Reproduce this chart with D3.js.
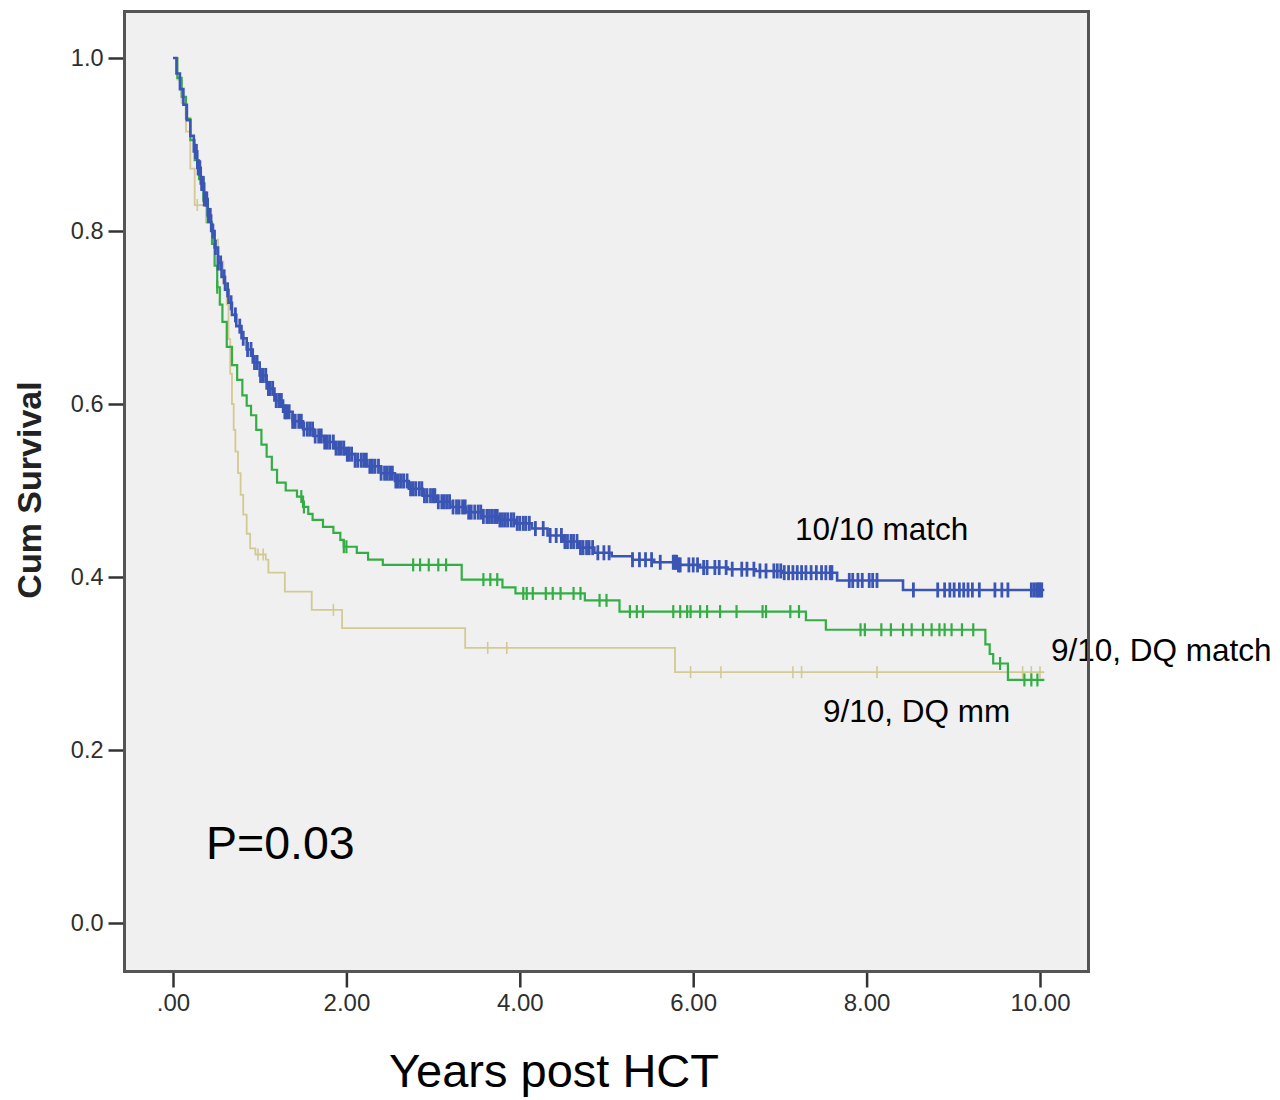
<!DOCTYPE html>
<html>
<head>
<meta charset="utf-8">
<script src="https://cdn.jsdelivr.net/npm/d3@7"></script>
<style>
  html, body { margin: 0; padding: 0; background: #ffffff; }
  svg { display: block; }
  text { font-family: "Liberation Sans", Arial, sans-serif; }
</style>
</head>
<body>
<svg id="chart" width="1280" height="1100"></svg>
<script>
// ---------------- DATA ----------------
const seriesNames = ["10/10 match", "9/10, DQ match", "9/10, DQ mm"];

// 10/10 match (blue) – step times (years) and cumulative survival
const blueTimes = [0, 0.04, 0.08, 0.12, 0.16, 0.2, 0.24, 0.28, 0.32, 0.36, 0.4, 0.44, 0.48, 0.52, 0.56, 0.6, 0.64, 0.68, 0.73, 0.79, 0.85, 0.92, 1.0, 1.08, 1.17, 1.27, 1.38, 1.5, 1.62, 1.74, 1.86, 1.98, 2.1, 2.24, 2.4, 2.56, 2.72, 2.88, 3.04, 3.2, 3.38, 3.56, 3.76, 3.96, 4.14, 4.32, 4.5, 4.68, 4.86, 5.06, 5.3, 5.55, 5.82, 6.08, 6.4, 6.72, 7.02, 7.66, 8.42, 10.05];
const blueSurv  = [1.0, 0.982, 0.964, 0.946, 0.928, 0.91, 0.892, 0.873, 0.855, 0.837, 0.818, 0.8, 0.781, 0.763, 0.747, 0.732, 0.717, 0.703, 0.69, 0.676, 0.663, 0.648, 0.633, 0.618, 0.604, 0.591, 0.58, 0.571, 0.563, 0.556, 0.549, 0.542, 0.535, 0.528, 0.52, 0.511, 0.502, 0.494, 0.487, 0.481, 0.475, 0.47, 0.466, 0.462, 0.456, 0.448, 0.441, 0.434, 0.428, 0.424, 0.42, 0.417, 0.414, 0.411, 0.409, 0.407, 0.405, 0.396, 0.385, 0.385];
const blueCensored = [0.26, 0.27, 0.29, 0.3, 0.31, 0.33, 0.34, 0.35, 0.36, 0.38, 0.39, 0.41, 0.43, 0.46, 0.49, 0.52, 0.55, 0.59, 0.63, 0.67, 0.72, 0.77, 0.81, 0.86, 0.9, 0.94, 0.97, 1.01, 1.04, 1.07, 1.1, 1.12, 1.15, 1.19, 1.22, 1.25, 1.29, 1.31, 1.34, 1.38, 1.41, 1.45, 1.48, 1.51, 1.55, 1.58, 1.61, 1.64, 1.68, 1.71, 1.75, 1.78, 1.81, 1.85, 1.88, 1.91, 1.94, 1.97, 2.01, 2.03, 2.06, 2.1, 2.13, 2.17, 2.2, 2.23, 2.27, 2.3, 2.33, 2.37, 2.4, 2.44, 2.47, 2.5, 2.53, 2.57, 2.6, 2.63, 2.66, 2.7, 2.74, 2.77, 2.8, 2.84, 2.87, 2.9, 2.93, 2.97, 3.0, 3.02, 3.06, 3.1, 3.13, 3.16, 3.19, 3.23, 3.27, 3.3, 3.34, 3.37, 3.41, 3.44, 3.48, 3.52, 3.55, 3.58, 3.62, 3.65, 3.68, 3.71, 3.74, 3.77, 3.8, 3.83, 3.86, 3.9, 3.93, 3.97, 4.0, 4.04, 4.07, 4.11, 4.18, 4.27, 4.35, 4.42, 4.48, 4.52, 4.55, 4.59, 4.62, 4.66, 4.7, 4.73, 4.77, 4.8, 4.84, 4.9, 4.97, 5.03, 5.3, 5.38, 5.45, 5.52, 5.62, 5.77, 5.79, 5.81, 5.83, 5.85, 5.95, 6.0, 6.05, 6.12, 6.16, 6.25, 6.3, 6.38, 6.45, 6.56, 6.62, 6.7, 6.77, 6.84, 6.93, 6.97, 7.01, 7.05, 7.1, 7.15, 7.2, 7.25, 7.3, 7.36, 7.42, 7.48, 7.53, 7.58, 7.6, 7.8, 7.84, 7.9, 7.95, 8.03, 8.07, 8.12, 8.54, 8.82, 8.9, 8.96, 9.01, 9.07, 9.12, 9.17, 9.22, 9.3, 9.48, 9.56, 9.63, 9.9, 9.93, 9.96, 9.98, 10.0, 10.02];

// 9/10, DQ match (green)
const greenTimes = [0, 0.05, 0.1, 0.15, 0.2, 0.25, 0.3, 0.35, 0.4, 0.45, 0.48, 0.51, 0.54, 0.57, 0.62, 0.68, 0.74, 0.8, 0.85, 0.9, 0.96, 1.02, 1.08, 1.14, 1.2, 1.3, 1.43, 1.5, 1.56, 1.61, 1.73, 1.85, 1.93, 1.97, 2.12, 2.25, 2.42, 3.33, 3.8, 3.95, 4.75, 5.15, 7.3, 7.53, 9.37, 9.42, 9.46, 9.63, 10.05];
const greenSurv  = [1.0, 0.977, 0.955, 0.93, 0.905, 0.882, 0.86, 0.835, 0.81, 0.785, 0.76, 0.735, 0.715, 0.695, 0.666, 0.645, 0.628, 0.61, 0.598, 0.587, 0.57, 0.553, 0.539, 0.524, 0.509, 0.5, 0.493, 0.481, 0.473, 0.466, 0.458, 0.451, 0.443, 0.435, 0.428, 0.42, 0.414, 0.397, 0.388, 0.381, 0.373, 0.36, 0.35, 0.339, 0.322, 0.311, 0.3, 0.281, 0.281];
const greenCensored = [0.51, 1.48, 1.51, 1.97, 2.0, 2.77, 2.85, 2.95, 3.06, 3.15, 3.58, 3.66, 3.74, 4.04, 4.08, 4.15, 4.3, 4.38, 4.47, 4.62, 4.7, 4.92, 5.0, 5.27, 5.35, 5.42, 5.77, 5.85, 5.93, 5.97, 6.08, 6.16, 6.31, 6.5, 6.8, 6.84, 7.12, 7.22, 7.93, 7.98, 8.17, 8.28, 8.42, 8.52, 8.65, 8.75, 8.84, 8.9, 8.98, 9.1, 9.23, 9.54, 9.82, 9.9, 9.97];

// 9/10, DQ mm (tan)
const tanTimes = [0, 0.05, 0.1, 0.15, 0.2, 0.25, 0.38, 0.45, 0.52, 0.58, 0.62, 0.64, 0.66, 0.68, 0.7, 0.72, 0.75, 0.78, 0.81, 0.85, 0.89, 0.95, 1.07, 1.1, 1.29, 1.6, 1.95, 3.37, 5.79, 10.05];
const tanSurv  = [1.0, 0.975, 0.948, 0.915, 0.872, 0.83, 0.81, 0.79, 0.765, 0.74, 0.715, 0.675, 0.635, 0.6, 0.57, 0.545, 0.52, 0.495, 0.472, 0.45, 0.433, 0.426, 0.42, 0.405, 0.383, 0.362, 0.341, 0.318, 0.29, 0.29];
const tanCensored = [0.28, 0.98, 1.04, 1.85, 3.63, 3.85, 5.97, 6.32, 7.15, 7.25, 8.12, 9.8, 9.9, 10.0];

const xTicks = [0, 2, 4, 6, 8, 10];
const xTickLabels = [".00", "2.00", "4.00", "6.00", "8.00", "10.00"];
const yTicks = [0, 0.2, 0.4, 0.6, 0.8, 1.0];
const yTickLabels = ["0.0", "0.2", "0.4", "0.6", "0.8", "1.0"];

const xTitle = "Years post HCT";
const yTitle = "Cum Survival";
const pText = "P=0.03";

// ---------------- CHART ----------------
const svg = d3.select("#chart");

const frame = {left: 124.5, top: 11.5, right: 1088.5, bottom: 971.5};
const x = d3.scaleLinear().domain([0, 10]).range([173, 1040]);
const y = d3.scaleLinear().domain([0, 1]).range([923, 58]);

// plot background
svg.append("rect")
  .attr("x", frame.left).attr("y", frame.top)
  .attr("width", frame.right - frame.left).attr("height", frame.bottom - frame.top)
  .attr("fill", "#f0f0f0");

const series = [
  {name: seriesNames[2], times: tanTimes, surv: tanSurv, cens: tanCensored, color: "#d3c993", lw: 1.8, th: 6, tw: 1.6},
  {name: seriesNames[1], times: greenTimes, surv: greenSurv, cens: greenCensored, color: "#33ae44", lw: 2.2, th: 6.5, tw: 2.2},
  {name: seriesNames[0], times: blueTimes, surv: blueSurv, cens: blueCensored, color: "#3a55b4", lw: 2.6, th: 7.5, tw: 2.8}
];

const line = d3.line()
  .x(d => x(d[0]))
  .y(d => y(d[1]))
  .curve(d3.curveStepAfter);

series.forEach(s => {
  const pts = s.times.map((t, i) => [t, s.surv[i]]);
  const g = svg.append("g");
  g.append("path")
    .datum(pts)
    .attr("d", line)
    .attr("fill", "none")
    .attr("stroke", s.color)
    .attr("stroke-width", s.lw);
  const bis = d3.bisector(d => d).right;
  const survAt = t => s.surv[Math.max(0, bis(s.times, t) - 1)];
  g.selectAll("line.cens")
    .data(s.cens)
    .join("line")
    .attr("class", "cens")
    .attr("x1", d => x(d)).attr("x2", d => x(d))
    .attr("y1", d => y(survAt(d)) - s.th)
    .attr("y2", d => y(survAt(d)) + s.th)
    .attr("stroke", s.color)
    .attr("stroke-width", s.tw);
});

// axes
const yAxis = d3.axisLeft(y)
  .tickValues(yTicks)
  .tickFormat((d, i) => yTickLabels[i])
  .tickSize(16)
  .tickPadding(5);
const gy = svg.append("g").attr("transform", `translate(${frame.left},0)`).call(yAxis);
gy.select(".domain").remove();
gy.selectAll(".tick line").attr("stroke", "#333").attr("stroke-width", 2.5);
gy.selectAll(".tick text").attr("fill", "#2e2e2e").style("font-size", "23.5px")
  .style("font-family", "'Liberation Sans', Arial, sans-serif");

const xAxis = d3.axisBottom(x)
  .tickValues(xTicks)
  .tickFormat((d, i) => xTickLabels[i])
  .tickSize(16)
  .tickPadding(6);
const gx = svg.append("g").attr("transform", `translate(0,${frame.bottom})`).call(xAxis);
gx.select(".domain").remove();
gx.selectAll(".tick line").attr("stroke", "#333").attr("stroke-width", 2.5);
gx.selectAll(".tick text").attr("fill", "#2e2e2e").style("font-size", "24px")
  .style("font-family", "'Liberation Sans', Arial, sans-serif");

// annotations
svg.append("text").attr("x", 795).attr("y", 540).attr("font-size", 31.5).attr("fill", "#000").text(seriesNames[0]);
svg.append("text").attr("x", 1051).attr("y", 661).attr("font-size", 31.5).attr("fill", "#000").text(seriesNames[1]);
svg.append("text").attr("x", 823).attr("y", 722).attr("font-size", 31.5).attr("fill", "#000").text(seriesNames[2]);
svg.append("text").attr("x", 206).attr("y", 859).attr("font-size", 46.5).attr("fill", "#000").text(pText);

// frame
svg.append("rect")
  .attr("x", frame.left).attr("y", frame.top)
  .attr("width", frame.right - frame.left).attr("height", frame.bottom - frame.top)
  .attr("fill", "none").attr("stroke", "#555").attr("stroke-width", 3);

// titles
svg.append("text").attr("x", 554).attr("y", 1087).attr("text-anchor", "middle")
  .attr("font-size", 47).attr("fill", "#000").text(xTitle);
svg.append("text")
  .attr("transform", "translate(41,490) rotate(-90)")
  .attr("text-anchor", "middle").attr("font-size", 34).attr("font-weight", "bold")
  .attr("fill", "#222").text(yTitle);
</script>
</body>
</html>
